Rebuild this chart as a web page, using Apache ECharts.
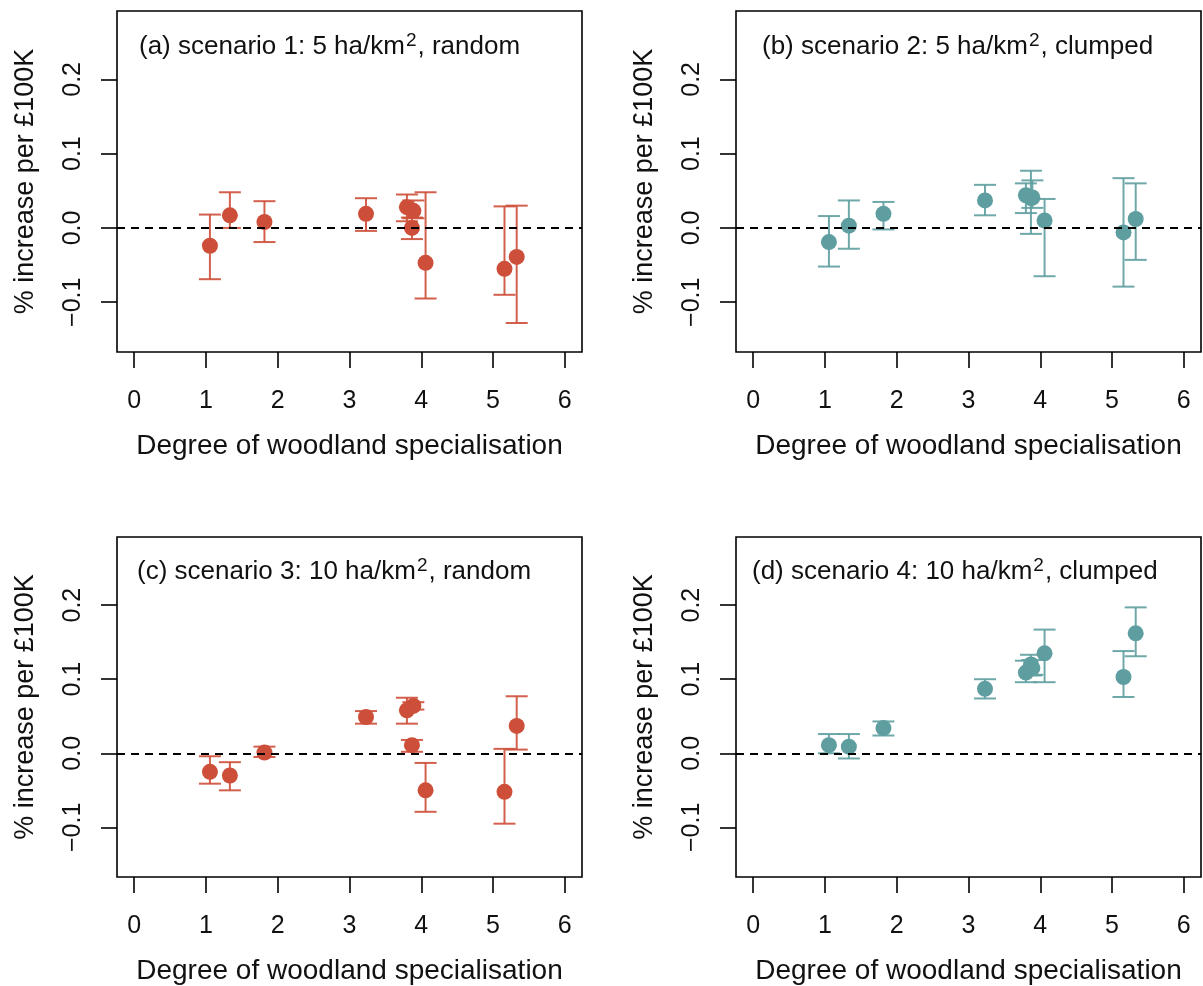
<!DOCTYPE html>
<html>
<head>
<meta charset="utf-8">
<script src="https://cdn.jsdelivr.net/npm/echarts@6/dist/echarts.min.js"></script>
<style>
  html, body { margin: 0; padding: 0; background: #fff; }
  #chart { width: 1203px; height: 986px; }
</style>
</head>
<body>
<div id="chart"></div>
<script>
// degree of woodland specialisation for each species (same in every panel)
const woodX = [1.055, 1.333, 1.815, 3.23, 3.80, 3.87, 3.89, 4.06, 5.16, 5.33];

// (a) scenario 1: 5 ha/km2, random
const est1 = [-0.024, 0.017, 0.008, 0.019, 0.028, 0.000, 0.023, -0.047, -0.055, -0.039];
const lo1  = [-0.069, 0.000, -0.019, -0.004, 0.009, -0.015, 0.013, -0.095, -0.090, -0.128];
const hi1  = [0.018, 0.048, 0.036, 0.040, 0.045, 0.014, 0.037, 0.048, 0.029, 0.030];

// (b) scenario 2: 5 ha/km2, clumped
const est2 = [-0.019, 0.003, 0.019, 0.037, 0.044, 0.040, 0.041, 0.010, -0.006, 0.012];
const lo2  = [-0.052, -0.028, -0.002, 0.017, 0.020, -0.008, 0.027, -0.065, -0.079, -0.043];
const hi2  = [0.016, 0.037, 0.035, 0.058, 0.060, 0.077, 0.064, 0.039, 0.067, 0.060];

// (c) scenario 3: 10 ha/km2, random
const est3 = [-0.025, -0.030, 0.001, 0.049, 0.058, 0.011, 0.064, -0.050, -0.052, 0.037];
const lo3  = [-0.041, -0.050, -0.005, 0.040, 0.040, 0.002, 0.059, -0.079, -0.095, 0.005];
const hi3  = [-0.004, -0.012, 0.009, 0.057, 0.075, 0.018, 0.069, -0.013, 0.006, 0.077];

// (d) scenario 4: 10 ha/km2, clumped
const est4 = [0.011, 0.009, 0.034, 0.087, 0.109, 0.120, 0.115, 0.135, 0.103, 0.162];
const lo4  = [0.000, -0.007, 0.024, 0.074, 0.096, 0.105, 0.106, 0.096, 0.076, 0.131];
const hi4  = [0.026, 0.026, 0.043, 0.100, 0.125, 0.133, 0.126, 0.167, 0.138, 0.197];

const xTicks = [0, 1, 2, 3, 4, 5, 6];
const yTicks = [-0.1, 0, 0.1, 0.2];

const panelTitles = [
  ['(a) scenario 1: 5 ha/km', '2', ', random'],
  ['(b) scenario 2: 5 ha/km', '2', ', clumped'],
  ['(c) scenario 3: 10 ha/km', '2', ', random'],
  ['(d) scenario 4: 10 ha/km', '2', ', clumped']
];
const xTitle = 'Degree of woodland specialisation';
const yTitle = '% increase per \u00a3100K';

const RED = '#CD4F39';
const TEAL = '#5F9EA0';
const FONT = '"Liberation Sans", Arial, Helvetica, sans-serif';

const panels = [
  { est: est1, lo: lo1, hi: hi1, color: RED,  left: 117, top: 11,  titleX: 139, titleY: 31 },
  { est: est2, lo: lo2, hi: hi2, color: TEAL, left: 736, top: 11,  titleX: 762, titleY: 31 },
  { est: est3, lo: lo3, hi: hi3, color: RED,  left: 117, top: 537, titleX: 137, titleY: 556 },
  { est: est4, lo: lo4, hi: hi4, color: TEAL, left: 736, top: 537, titleX: 752, titleY: 556 }
];

const fmtY = (v) => v.toFixed(1).replace('-', '\u2212');

const option = {
  animation: false,
  backgroundColor: '#fff',
  grid: panels.map((p) => ({
    left: p.left,
    top: p.top,
    width: 465,
    height: 341,
    show: true,
    borderColor: '#000',
    borderWidth: 1.6,
    backgroundColor: 'transparent'
  })),
  xAxis: panels.map((p, i) => ({
    type: 'value',
    gridIndex: i,
    min: -0.24,
    max: 6.24,
    axisLine: { show: false, onZero: false },
    splitLine: { show: false },
    axisTick: { show: true, customValues: xTicks, length: 16, lineStyle: { color: '#000', width: 1.6 } },
    axisLabel: { customValues: xTicks, margin: 37, fontSize: 25, color: '#111', fontFamily: FONT },
    name: xTitle,
    nameLocation: 'middle',
    nameGap: 80,
    nameTextStyle: { fontSize: 28, color: '#111', fontFamily: FONT }
  })),
  yAxis: panels.map((p, i) => ({
    type: 'value',
    gridIndex: i,
    min: -0.167,
    max: 0.292,
    axisLine: { show: false, onZero: false },
    splitLine: { show: false },
    axisTick: { show: true, customValues: yTicks, length: 16, lineStyle: { color: '#000', width: 1.6 } },
    axisLabel: {
      customValues: yTicks,
      rotate: 90,
      margin: 31,
      fontSize: 25,
      color: '#111',
      fontFamily: FONT,
      formatter: fmtY
    },
    name: yTitle,
    nameLocation: 'middle',
    nameRotate: 90,
    nameGap: 78,
    nameTextStyle: { fontSize: 27, color: '#111', fontFamily: FONT }
  })),
  graphic: panels.map((p, i) => ({
    type: 'text',
    left: p.titleX,
    top: p.titleY,
    style: {
      text: '{n|' + panelTitles[i][0] + '}{s|' + panelTitles[i][1] + '}{n|' + panelTitles[i][2] + '}',
      rich: {
        n: { fontSize: 26, fontFamily: FONT, fill: '#111' },
        s: { fontSize: 19, fontFamily: FONT, fill: '#111', padding: [0, 1, 13, 1] }
      }
    }
  })),
  series: []
};

panels.forEach((p, i) => {
  // error bars
  option.series.push({
    type: 'custom',
    xAxisIndex: i,
    yAxisIndex: i,
    silent: true,
    z: 2,
    data: woodX.map((x, j) => [x, p.lo[j], p.hi[j]]),
    encode: { x: 0, y: [1, 2] },
    renderItem: (params, api) => {
      const x = api.value(0);
      const top = api.coord([x, api.value(2)]);
      const bot = api.coord([x, api.value(1)]);
      const w = 11;
      const style = { stroke: p.color, lineWidth: 2, opacity: 0.9 };
      return {
        type: 'group',
        children: [
          { type: 'line', shape: { x1: top[0], y1: top[1], x2: bot[0], y2: bot[1] }, style },
          { type: 'line', shape: { x1: top[0] - w, y1: top[1], x2: top[0] + w, y2: top[1] }, style },
          { type: 'line', shape: { x1: bot[0] - w, y1: bot[1], x2: bot[0] + w, y2: bot[1] }, style }
        ]
      };
    },
    markLine: {
      silent: true,
      symbol: ['none', 'none'],
      label: { show: false },
      lineStyle: { color: '#000', type: [8, 6], width: 1.8 },
      data: [{ yAxis: 0 }]
    }
  });
  // point estimates
  option.series.push({
    type: 'scatter',
    xAxisIndex: i,
    yAxisIndex: i,
    z: 3,
    symbol: 'circle',
    symbolSize: 16,
    itemStyle: { color: p.color, opacity: 1 },
    data: woodX.map((x, j) => [x, p.est[j]])
  });
});

const chart = echarts.init(document.getElementById('chart'), null, { renderer: 'canvas' });
chart.setOption(option);
</script>
</body>
</html>
